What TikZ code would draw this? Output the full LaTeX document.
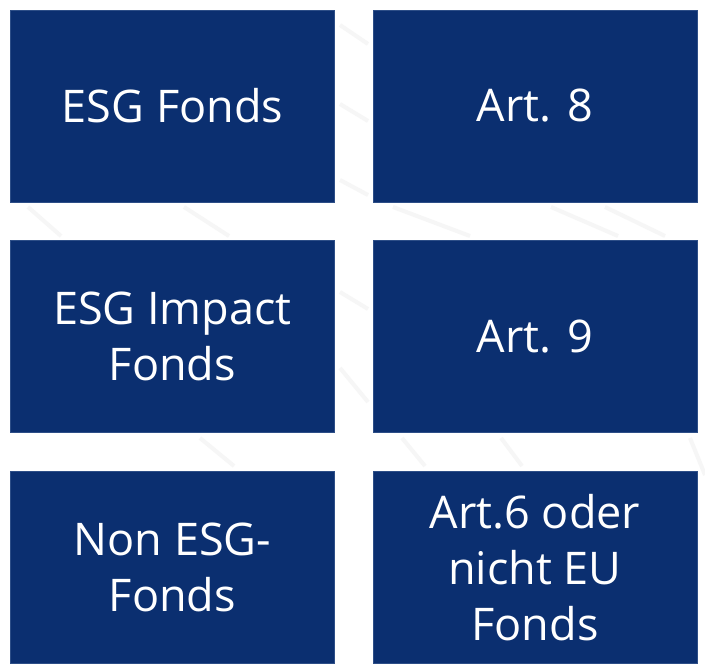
\documentclass[tikz,border=0pt]{standalone}
\usepackage{fontspec}
\setmainfont{Open Sans}
\definecolor{boxblue}{RGB}{11,47,112}
\definecolor{boxedge}{RGB}{45,78,135}
\definecolor{faint}{RGB}{246,246,246}
\begin{document}
\begin{tikzpicture}[x=1pt,y=-1pt,
  cell/.style={rectangle, fill=boxblue, draw=boxedge, line width=0.8pt,
    text=white, align=center, inner sep=0pt,
    minimum width=324pt, minimum height=192pt,
    font=\fontsize{45}{56}\selectfont},
  streak/.style={draw=faint, line width=4pt}]
\useasboundingbox (0,0) rectangle (705,664);
\fill[white] (0,0) rectangle (705,664);
% faint background streaks
\draw[streak] (28,207) -- (61,236);
\draw[streak] (184,207) -- (229,236);
\draw[streak] (393,207) -- (470,236);
\draw[streak] (551,207) -- (618,236);
\draw[streak] (605,207) -- (665,236);
\draw[streak] (200,438) -- (234,466);
\draw[streak] (402,438) -- (425,466);
\draw[streak] (501,438) -- (522,466);
\draw[streak] (690,438) -- (705,475);
\draw[streak] (340,25) -- (368,44);
\draw[streak] (340,104) -- (368,121);
\draw[streak] (340,180) -- (368,195);
\draw[streak] (340,292) -- (368,309);
\draw[streak] (340,368) -- (368,402);
% boxes
\node[cell] (esg)    at (172.5,106)   {ESG Fonds};
\node[cell] (art8)   at (535,106)     {Art. 8};
\node[cell] (impact) at (172.5,336.5) {ESG Impact\\Fonds};
\node[cell] (art9)   at (535,336.5)   {Art. 9};
\node[cell] (non)    at (172.5,567.5) {Non ESG-\\Fonds};
\node[cell] (art6)   at (535,567.5)   {Art.6 oder\\nicht EU\\Fonds};
\end{tikzpicture}
\end{document}
